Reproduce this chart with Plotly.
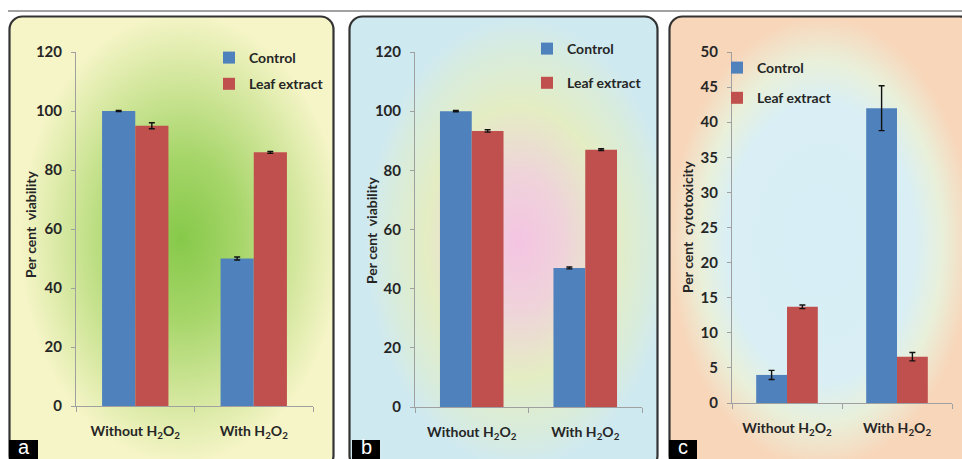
import base64
import plotly.graph_objects as go

# ---------------- data ----------------
categories = ["Without H<sub>2</sub>O<sub>2</sub>", "With H<sub>2</sub>O<sub>2</sub>"]
series_names = ["Control", "Leaf extract"]

a_control = [100, 50]
a_control_err = [0.2, 0.5]
a_leaf = [95, 86]
a_leaf_err = [1.0, 0.3]

b_control = [100, 47]
b_control_err = [0.2, 0.3]
b_leaf = [93.3, 87]
b_leaf_err = [0.4, 0.3]

c_control = [4.0, 42.0]
c_control_err = [0.65, 3.2]
c_leaf = [13.7, 6.6]
c_leaf_err = [0.25, 0.6]

y_titles = ["Per cent  viability", "Per cent  viability", "Per cent  cytotoxicity"]
panel_letters = ["a", "b", "c"]

# ---------------- layout helpers ----------------
W, H = 962, 459
BLUE = "#4f81bd"
RED = "#c0504d"
FONT = "Lato"
TXT = "#262626"


def fx(px):
    return px / W


def fy(py):
    return 1 - py / H


def panel_svg(w, h, stops, cx=0.5, cy=0.5):
    st = "".join(
        f'<stop offset="{o}" stop-color="{c}"/>' for o, c in stops
    )
    svg = (
        f'<svg xmlns="http://www.w3.org/2000/svg" width="{w}" height="{h}" viewBox="0 0 {w} {h}">'
        f'<defs><radialGradient id="g" cx="{cx}" cy="{cy}" r="0.5" fx="{cx}" fy="{cy}">{st}</radialGradient></defs>'
        f'<rect x="1.5" y="1.5" width="{w-3}" height="{h-3}" rx="13" ry="13" fill="url(#g)" '
        f'stroke="#333333" stroke-width="2.2"/></svg>'
    )
    return "data:image/svg+xml;base64," + base64.b64encode(svg.encode()).decode()


fig = go.Figure()

panels = [
    dict(ctrl=a_control, ce=a_control_err, leaf=a_leaf, le=a_leaf_err,
         xd=(76, 313), yd=(406, 52), rng=[0, 120], dt=20),
    dict(ctrl=b_control, ce=b_control_err, leaf=b_leaf, le=b_leaf_err,
         xd=(415, 642), yd=(407, 52), rng=[0, 120], dt=20),
    dict(ctrl=c_control, ce=c_control_err, leaf=c_leaf, le=c_leaf_err,
         xd=(732, 952), yd=(403, 52), rng=[0, 50], dt=5),
]

legend_pos = [(209, 42), (527, 33), (717, 52)]
legend_gap = [5, 13, 9]
title_x = [30, 372, 687]
title_y = [224, 230, 227]

annotations = []
for i, p in enumerate(panels):
    n = "" if i == 0 else str(i + 1)
    leg = "legend" if i == 0 else f"legend{i + 1}"
    for name, vals, errs, col in ((series_names[0], p["ctrl"], p["ce"], BLUE),
                                  (series_names[1], p["leaf"], p["le"], RED)):
        fig.add_trace(go.Bar(
            x=categories, y=vals, name=name, marker_color=col,
            marker_line_width=0,
            error_y=dict(type="data", array=errs, color="#111111", thickness=1.4, width=3),
            xaxis="x" + n, yaxis="y" + n, legend=leg, legendgroup=f"{leg}{name}",
        ))
    fig.update_layout(**{
        "xaxis" + n: dict(
            domain=[fx(p["xd"][0]), fx(p["xd"][1])], anchor="y" + n,
            showline=True, linecolor="#a0a0a0", linewidth=1,
            ticks="outside", tickson="boundaries", ticklen=5, tickcolor="#a0a0a0",
            showgrid=False, zeroline=False, ticklabelstandoff=12,
            tickfont=dict(family=FONT, size=14, color=TXT, weight="bold"),
        ),
        "yaxis" + n: dict(
            domain=[fy(p["yd"][0]), fy(p["yd"][1])], anchor="x" + n,
            range=p["rng"], dtick=p["dt"], tick0=0,
            showline=True, linecolor="#a0a0a0", linewidth=1,
            ticks="outside", ticklen=4, tickcolor="#a0a0a0",
            showgrid=False, zeroline=False, ticklabelstandoff=6,
            tickfont=dict(family=FONT, size=15, color=TXT, weight="bold"),
        ),
        leg: dict(
            x=fx(legend_pos[i][0]), y=fy(legend_pos[i][1]), xanchor="left", yanchor="top",
            bgcolor="rgba(0,0,0,0)", borderwidth=0, tracegroupgap=legend_gap[i],
            font=dict(family=FONT, size=14, color=TXT, weight="bold"),
        ),
    })
    annotations.append(dict(
        text=y_titles[i], xref="paper", yref="paper", x=fx(title_x[i]), y=fy(title_y[i]),
        textangle=-90, showarrow=False, xanchor="center", yanchor="middle",
        font=dict(family=FONT, size=14, color=TXT, weight="bold"),
    ))

# decorative panel backgrounds
bgs = [
    (8, 15, 327, 455, [(0, "#86c94a"), (0.35, "#a5d568"), (0.72, "#d4e79e"), (1, "#f6f5c8")], 0.53, 0.49),
    (348, 15, 311, 455, [(0, "#f4c4e2"), (0.3, "#efd3da"), (0.6, "#e4edc3"), (0.85, "#d8ecdd"), (1, "#cfe9f1")], 0.55, 0.5),
    (668, 15, 306, 455, [(0, "#d8eef6"), (0.62, "#d9eff5"), (0.8, "#e9f0da"), (1, "#f8d6ba")], 0.5, 0.5),
]
images = []
for x0, y0, w, h, stops, cx, cy in bgs:
    images.append(dict(
        source=panel_svg(w, h, stops, cx, cy), xref="paper", yref="paper",
        x=fx(x0), y=fy(y0), sizex=w / W, sizey=h / H,
        xanchor="left", yanchor="top", sizing="stretch", layer="below",
    ))

shapes = [dict(type="line", xref="paper", yref="paper", x0=fx(8), x1=1, y0=fy(11), y1=fy(11),
               line=dict(color="#444444", width=1))]
boxes = [(9, 38), (352, 380), (669, 697)]
for (bx0, bx1), letter in zip(boxes, panel_letters):
    shapes.append(dict(type="rect", xref="paper", yref="paper", x0=fx(bx0), x1=fx(bx1),
                       y0=0, y1=fy(440), fillcolor="#000000", line_width=0))
    annotations.append(dict(text=letter, xref="paper", yref="paper", x=fx((bx0 + bx1) / 2),
                            y=0, showarrow=False, xanchor="center", yanchor="bottom",
                            borderpad=0,
                            font=dict(family="Liberation Sans", size=20, color="white")))

fig.update_layout(
    width=W, height=H, margin=dict(l=0, r=0, t=0, b=0, autoexpand=False),
    paper_bgcolor="white", plot_bgcolor="rgba(0,0,0,0)",
    barmode="group", bargap=0.44, bargroupgap=0,
    images=images, shapes=shapes, annotations=annotations,
)

fig.write_html("out.html", config={"displayModeBar": False},
               post_script="document.body.style.margin='0';")
